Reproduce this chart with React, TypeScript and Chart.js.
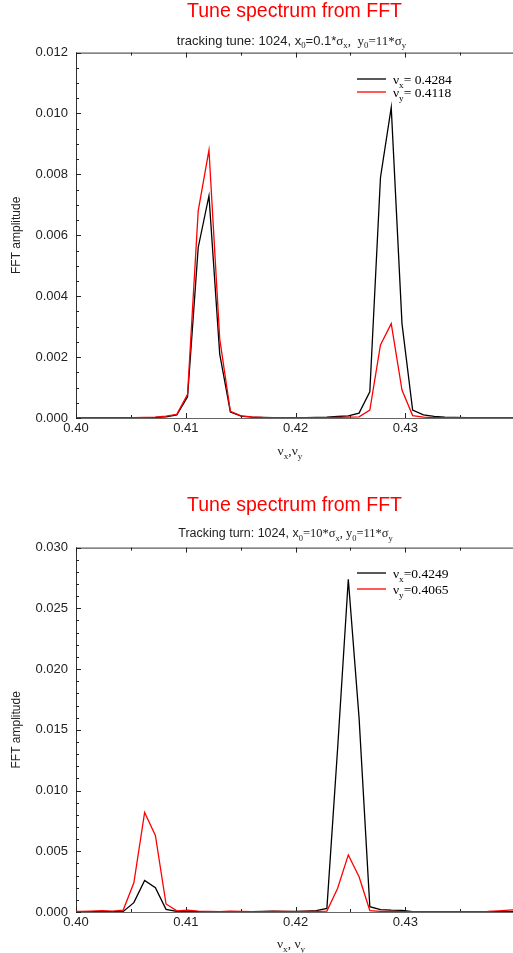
import React, { useEffect, useRef } from "react";
import { Chart, registerables } from "chart.js";

Chart.register(...registerables);

// ---------- data ----------
// FFT bin tunes (1024 turns), k = 409 .. 451
const tuneBins = [
  0.39941, 0.40039, 0.40137, 0.40234, 0.40332, 0.4043, 0.40527, 0.40625, 0.40723, 0.4082,
  0.40918, 0.41016, 0.41113, 0.41211, 0.41309, 0.41406, 0.41504, 0.41602, 0.41699, 0.41797,
  0.41895, 0.41992, 0.4209, 0.42188, 0.42285, 0.42383, 0.4248, 0.42578, 0.42676, 0.42773,
  0.42871, 0.42969, 0.43066, 0.43164, 0.43262, 0.43359, 0.43457, 0.43555, 0.43652, 0.4375,
  0.43848, 0.43945, 0.44043,
];

// Chart 1: x0 = 0.1 sigma_x, y0 = 11 sigma_y
const spec1Nux = [
  0, 0, 0, 0, 0, 0, 0.00001, 0.00001, 0.00002, 0.00004,
  0.0001, 0.0007, 0.0056, 0.0073, 0.0021, 0.0002, 0.00006, 0.00003, 0.00002, 0.00001,
  0.00001, 0.00001, 0.00001, 0.00002, 0.00003, 0.00005, 0.00007, 0.00016, 0.00086, 0.0079,
  0.0102, 0.0031, 0.00026, 0.0001, 0.00005, 0.00003, 0.00002, 0.00001, 0.00001, 0.00001,
  0.00001, 0.00001, 0.00001,
];
const spec1Nuy = [
  0, 0, 0, 0, 0, 0, 0.00001, 0.00002, 0.00003, 0.00006,
  0.00012, 0.00078, 0.0068, 0.0088, 0.0026, 0.00022, 0.00007, 0.00004, 0.00002, 0.00001,
  0.00001, 0.00001, 0.00001, 0.00001, 0.00001, 0.00002, 0.00003, 0.00004, 0.00026, 0.0024,
  0.0031, 0.00092, 0.00008, 0.00003, 0.00001, 0.00001, 0.00001, 0.00001, 0.00001, 0.00001,
  0.00001, 0.00001, 0.00001,
];

// Chart 2: x0 = 10 sigma_x, y0 = 11 sigma_y
const spec2Nux = [
  0.00002, 0.00002, 0.00002, 0.00002, 0.00002, 0.00005, 0.00077, 0.0026, 0.002, 0.00022,
  0.00005, 0.00003, 0.00002, 0.00002, 0.00002, 0.00002, 0.00002, 0.00002, 0.00004, 0.00006,
  0.00005, 0.00005, 0.00008, 0.00012, 0.0003, 0.0135, 0.0274, 0.016, 0.00044, 0.0002,
  0.00016, 0.00014, 0.00003, 0.00002, 0.00002, 0.00002, 0.00002, 0.00002, 0.00002, 0.00002,
  0.00002, 0.00002, 0.00002,
];
const spec2Nuy = [
  0.00005, 0.00005, 0.00008, 0.00012, 0.00008, 0.00016, 0.0024, 0.0082, 0.0063, 0.00066,
  0.0001, 0.00015, 0.00008, 0.00005, 0.00003, 0.00006, 0.00004, 0.00003, 0.00003, 0.00005,
  0.00004, 0.00003, 0.00004, 0.00005, 0.00008, 0.00195, 0.0047, 0.0029, 0.00012, 0.00005,
  0.00004, 0.00003, 0.00003, 0.00003, 0.00003, 0.00003, 0.00003, 0.00003, 0.00003, 0.00005,
  0.0001, 0.00015, 0.0002,
];

// ticks
const xMajorTicks = [0.4, 0.41, 0.42, 0.43, 0.44];
const xMinorTicks = [0.405, 0.415, 0.425, 0.435];
const y1MajorTicks = [0, 0.002, 0.004, 0.006, 0.008, 0.01, 0.012];
const y1MinorTicks = [
  0.0005, 0.001, 0.0015, 0.0025, 0.003, 0.0035, 0.0045, 0.005, 0.0055, 0.0065, 0.007, 0.0075,
  0.0085, 0.009, 0.0095, 0.0105, 0.011, 0.0115,
];
const y2MajorTicks = [0, 0.005, 0.01, 0.015, 0.02, 0.025, 0.03];
const y2MinorTicks = [
  0.001, 0.002, 0.003, 0.004, 0.006, 0.007, 0.008, 0.009, 0.011, 0.012, 0.013, 0.014, 0.016,
  0.017, 0.018, 0.019, 0.021, 0.022, 0.023, 0.024, 0.026, 0.027, 0.028, 0.029,
];

const titleText = "Tune spectrum from FFT";
const yTitleText = "FFT amplitude";

type Seg = { t: string; sub?: boolean; serif?: boolean };

const subtitle1: Seg[] = [
  { t: "tracking tune: 1024, x" },
  { t: "0", sub: true, serif: true },
  { t: "=0.1*" },
  { t: "σ", serif: true },
  { t: "x", sub: true, serif: true },
  { t: ",  ", serif: true },
  { t: "y", serif: true },
  { t: "0", sub: true, serif: true },
  { t: "=11*σ", serif: true },
  { t: "y", sub: true, serif: true },
];
const subtitle2: Seg[] = [
  { t: "Tracking turn: 1024, x" },
  { t: "0", sub: true, serif: true },
  { t: "=10*σ", serif: true },
  { t: "x", sub: true, serif: true },
  { t: ", ", serif: true },
  { t: "y", serif: true },
  { t: "0", sub: true, serif: true },
  { t: "=11*σ", serif: true },
  { t: "y", sub: true, serif: true },
];
const legend1: Seg[][] = [
  [{ t: "ν", serif: true }, { t: "x", sub: true, serif: true }, { t: "= 0.4284", serif: true }],
  [{ t: "ν", serif: true }, { t: "y", sub: true, serif: true }, { t: "= 0.4118", serif: true }],
];
const legend2: Seg[][] = [
  [{ t: "ν", serif: true }, { t: "x", sub: true, serif: true }, { t: "=0.4249", serif: true }],
  [{ t: "ν", serif: true }, { t: "y", sub: true, serif: true }, { t: "=0.4065", serif: true }],
];
const xTitle1: Seg[] = [
  { t: "ν", serif: true }, { t: "x", sub: true, serif: true }, { t: ",", serif: true },
  { t: "ν", serif: true }, { t: "y", sub: true, serif: true },
];
const xTitle2: Seg[] = [
  { t: "ν", serif: true }, { t: "x", sub: true, serif: true }, { t: ", ", serif: true },
  { t: "ν", serif: true }, { t: "y", sub: true, serif: true },
];

// ---------- styling ----------
const SANS = '"Liberation Sans", Arial, Helvetica, sans-serif';
const SERIF = '"Liberation Serif", "Times New Roman", Times, serif';
const W = 513;

function segFont(s: Seg, size: number) {
  const sz = s.sub ? size * 0.68 : size;
  return `${sz}px ${s.serif ? SERIF : SANS}`;
}

function drawRich(
  ctx: CanvasRenderingContext2D,
  segs: Seg[],
  x: number,
  yCenter: number,
  size: number,
  align: "left" | "center",
  color: string
) {
  ctx.save();
  ctx.fillStyle = color;
  ctx.textAlign = "left";
  ctx.textBaseline = "alphabetic";
  let total = 0;
  const widths = segs.map((s) => {
    ctx.font = segFont(s, size);
    const w = ctx.measureText(s.t).width;
    total += w;
    return w;
  });
  let cx = align === "center" ? x - total / 2 : x;
  const base = yCenter + size * 0.35;
  segs.forEach((s, i) => {
    ctx.font = segFont(s, size);
    ctx.fillText(s.t, cx, s.sub ? base + size * 0.28 : base);
    cx += widths[i];
  });
  ctx.restore();
}

type Spec = {
  height: number;
  top: number;
  titlePadBottom: number;
  nux: number[];
  nuy: number[];
  yMax: number;
  yMajor: number[];
  yMinor: number[];
  subtitle: Seg[];
  subtitleX: number;
  subtitleY: number;
  legend: Seg[][];
  legendY: number[];
  xTitle: Seg[];
  xTitleX: number;
  xTitleY: number;
};

const decorPlugin = {
  id: "decor",
  beforeDatasetsDraw(chart: any, _args: any, opts: any) {
    const ctx: CanvasRenderingContext2D = chart.ctx;
    const { left, right, top, bottom } = chart.chartArea;
    const xs = chart.scales.x;
    const ys = chart.scales.y;
    ctx.save();
    ctx.lineWidth = 1;
    ctx.strokeStyle = "#333";
    ctx.beginPath();
    ctx.moveTo(left + 0.5, top);
    ctx.lineTo(left + 0.5, bottom);
    ctx.moveTo(left, top + 0.5);
    ctx.lineTo(right, top + 0.5);
    ctx.stroke();
    ctx.strokeStyle = "#666";
    ctx.beginPath();
    ctx.moveTo(left, bottom + 0.5);
    ctx.lineTo(right, bottom + 0.5);
    ctx.stroke();
    ctx.strokeStyle = "#222";
    ctx.beginPath();
    const xt = (vals: number[], len: number) => {
      vals.forEach((v) => {
        const px = Math.round(xs.getPixelForValue(v)) + 0.5;
        if (px < left - 1 || px > right + 1) return;
        ctx.moveTo(px, bottom);
        ctx.lineTo(px, bottom - len);
        ctx.moveTo(px, top);
        ctx.lineTo(px, top + len);
      });
    };
    const yt = (vals: number[], len: number) => {
      vals.forEach((v) => {
        const py = Math.round(ys.getPixelForValue(v)) + 0.5;
        ctx.moveTo(left, py);
        ctx.lineTo(left + len, py);
      });
    };
    xt(opts.xMajor, 5);
    xt(opts.xMinor, 3);
    yt(opts.yMajor, 5);
    yt(opts.yMinor, 3);
    ctx.stroke();
    ctx.restore();
  },
  afterDraw(chart: any, _args: any, opts: any) {
    const ctx: CanvasRenderingContext2D = chart.ctx;
    drawRich(ctx, opts.subtitle, opts.subtitleX, opts.subtitleY, opts.subtitleSize, "center", "#222");
    const colors = ["#000000", "#ff0000"];
    opts.legend.forEach((segs: Seg[], i: number) => {
      const y = opts.legendY[i];
      ctx.save();
      ctx.strokeStyle = colors[i];
      ctx.lineWidth = 1.3;
      ctx.beginPath();
      ctx.moveTo(357, y);
      ctx.lineTo(386, y);
      ctx.stroke();
      ctx.restore();
      drawRich(ctx, segs, 393, y, 13.5, "left", "#000");
    });
    drawRich(ctx, opts.xTitle, opts.xTitleX, opts.xTitleY, 13.5, "center", "#222");
  },
};

function buildConfig(spec: Spec & { subtitleSize: number }): any {
  const tickFont = { family: SANS, size: 13 };
  return {
    type: "line",
    data: {
      datasets: [
        {
          label: "nu_x",
          data: tuneBins.map((x, i) => ({ x, y: spec.nux[i] })),
          borderColor: "#000000",
          borderWidth: 1.3,
          pointRadius: 0,
          tension: 0,
          fill: false,
          order: 2,
        },
        {
          label: "nu_y",
          data: tuneBins.map((x, i) => ({ x, y: spec.nuy[i] })),
          borderColor: "#ff0000",
          borderWidth: 1.3,
          pointRadius: 0,
          tension: 0,
          fill: false,
          order: 1,
        },
      ],
    },
    options: {
      animation: false,
      responsive: false,
      maintainAspectRatio: false,
      layout: { padding: 0 },
      events: [],
      plugins: {
        legend: { display: false },
        tooltip: { enabled: false },
        title: {
          display: true,
          text: titleText,
          color: "#ff0000",
          fullSize: false,
          font: { family: SANS, size: 19.5, weight: "normal", lineHeight: 1.2 },
          padding: { top: 0, bottom: spec.titlePadBottom },
        },
        decor: {
          xMajor: xMajorTicks,
          xMinor: xMinorTicks,
          yMajor: spec.yMajor,
          yMinor: spec.yMinor,
          subtitle: spec.subtitle,
          subtitleX: spec.subtitleX,
          subtitleY: spec.subtitleY,
          subtitleSize: spec.subtitleSize,
          legend: spec.legend,
          legendY: spec.legendY,
          xTitle: spec.xTitle,
          xTitleX: spec.xTitleX,
          xTitleY: spec.xTitleY,
        },
      },
      scales: {
        x: {
          type: "linear",
          min: 0.4,
          max: 0.4398,
          afterBuildTicks: (s: any) => {
            s.ticks = xMajorTicks.filter((v) => v <= 0.4398).map((v) => ({ value: v }));
          },
          afterFit: (s: any) => {
            s.height = spec.height - 418;
          },
          ticks: {
            autoSkip: false,
            maxRotation: 0,
            padding: 3,
            color: "#222",
            font: tickFont,
            callback: (v: any) => Number(v).toFixed(2),
          },
          grid: { display: false, drawTicks: false },
          border: { display: false },
        },
        y: {
          type: "linear",
          min: 0,
          max: spec.yMax,
          afterBuildTicks: (s: any) => {
            s.ticks = spec.yMajor.map((v) => ({ value: v }));
          },
          afterFit: (s: any) => {
            s.width = 76;
          },
          ticks: {
            padding: 8,
            color: "#222",
            font: tickFont,
            callback: (v: any) => Number(v).toFixed(3),
          },
          grid: { display: false, drawTicks: false },
          border: { display: false },
          title: {
            display: true,
            text: yTitleText,
            color: "#222",
            font: { family: SANS, size: 12 },
            padding: { top: 9, bottom: 0 },
          },
        },
      },
    },
    plugins: [decorPlugin],
  };
}

const spec1 = {
  height: 494,
  top: 0,
  titlePadBottom: 29.2,
  nux: spec1Nux,
  nuy: spec1Nuy,
  yMax: 0.012,
  yMajor: y1MajorTicks,
  yMinor: y1MinorTicks,
  subtitle: subtitle1,
  subtitleX: 291.5,
  subtitleY: 40,
  subtitleSize: 13,
  legend: legend1,
  legendY: [79, 92],
  xTitle: xTitle1,
  xTitleX: 290,
  xTitleY: 450,
};

const spec2 = {
  height: 459,
  top: 494,
  titlePadBottom: 30.2,
  nux: spec2Nux,
  nuy: spec2Nuy,
  yMax: 0.03,
  yMajor: y2MajorTicks,
  yMinor: y2MinorTicks,
  subtitle: subtitle2,
  subtitleX: 285.5,
  subtitleY: 39,
  subtitleSize: 12.5,
  legend: legend2,
  legendY: [79, 95],
  xTitle: xTitle2,
  xTitleX: 291,
  xTitleY: 449,
};

function SpectrumChart({ spec }: { spec: any }) {
  const ref = useRef<HTMLCanvasElement>(null);
  useEffect(() => {
    if (!ref.current) return;
    const chart = new Chart(ref.current, buildConfig(spec));
    return () => chart.destroy();
  }, [spec]);
  return (
    <div style={{ position: "absolute", left: 0, top: spec.top, width: W, height: spec.height }}>
      <canvas
        ref={ref}
        width={W}
        height={spec.height}
        style={{ display: "block", width: W, height: spec.height }}
      />
    </div>
  );
}

export default function App() {
  return (
    <div style={{ position: "absolute", left: 0, top: 0, width: W, height: 953, background: "#fff" }}>
      <SpectrumChart spec={spec1} />
      <SpectrumChart spec={spec2} />
    </div>
  );
}
